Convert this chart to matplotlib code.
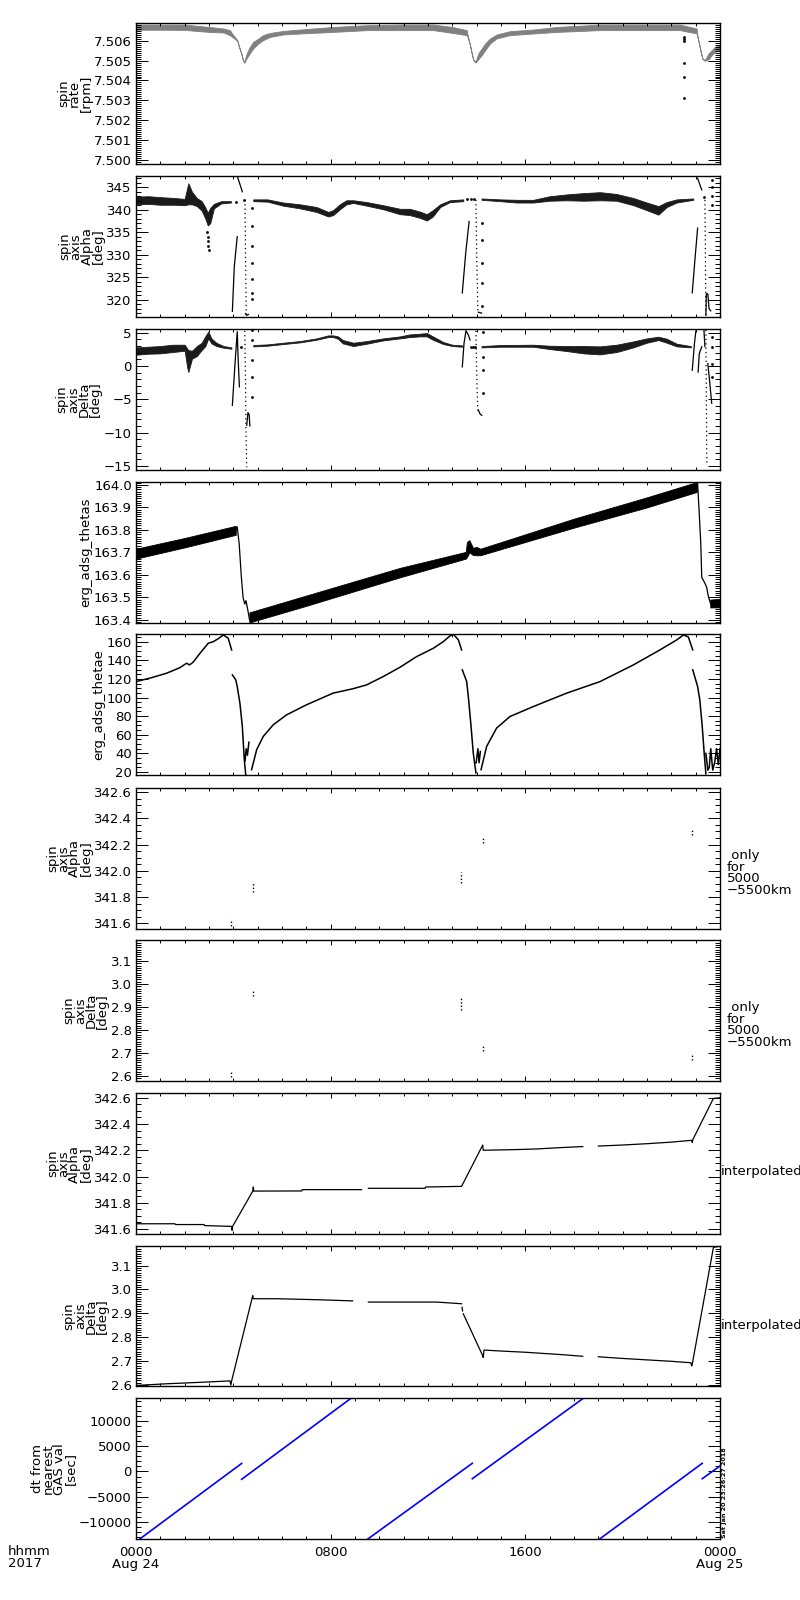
import numpy as np
import matplotlib
matplotlib.use('Agg')
import matplotlib.pyplot as plt
from matplotlib.ticker import MultipleLocator, FuncFormatter

plt.rcParams['font.family'] = ['DejaVu Sans']
nan = np.nan

# ---------------- data (time in hours from 2017-08-24 00:00) ----------------
# Panel 1: spin rate [rpm] band (quantised dots)
rate_t = [0, 1, 2, 3, 3.6, 3.86, 3.95, 4.16, 4.24, 4.33, 4.39, 4.45, 4.55, 4.68, 4.82, 5.03, 5.23, 5.51,
          6.05, 6.74, 8.1, 9.5, 10.85, 12.22, 13.0, 13.59, 13.66, 13.73, 13.8, 13.86, 13.95, 14.07, 14.21,
          14.35, 14.55, 14.82, 15.37, 16.33, 17.29, 19.07, 22.36, 23.04, 23.08, 23.14, 23.21, 23.28, 23.38,
          23.53, 23.66, 23.8, 24.0]
rate_hi = [7.50682, 7.50682, 7.50682, 7.50670, 7.50662, 7.50654, 7.50637, 7.50604, 7.50570, 7.50537, 7.50507,
           7.50494, 7.50537, 7.50570, 7.50595, 7.50612, 7.50629, 7.50640, 7.50650, 7.50657, 7.50670, 7.50679,
           7.50682, 7.50682, 7.50670, 7.50654, 7.50612, 7.50578, 7.50537, 7.50507, 7.50494, 7.50537, 7.50562,
           7.50587, 7.50612, 7.50632, 7.50649, 7.50657, 7.50670, 7.50682, 7.50682, 7.50662, 7.50620, 7.50587,
           7.50545, 7.50512, 7.50503, 7.50537, 7.50553, 7.50570, 7.50578]
rate_lo = [7.50656, 7.50656, 7.50655, 7.50645, 7.50642, 7.50628, 7.50620, 7.50600, 7.50566, 7.50533, 7.50503,
           7.50490, 7.50512, 7.50537, 7.50562, 7.50587, 7.50604, 7.50620, 7.50632, 7.50637, 7.50645, 7.50654,
           7.50654, 7.50654, 7.50640, 7.50629, 7.50608, 7.50574, 7.50533, 7.50503, 7.50490, 7.50507, 7.50528,
           7.50553, 7.50587, 7.50612, 7.50629, 7.50637, 7.50645, 7.50654, 7.50654, 7.50637, 7.50616, 7.50583,
           7.50541, 7.50508, 7.50499, 7.50507, 7.50528, 7.50545, 7.50553]
rate_dot_t = [22.53, 22.53, 22.53, 22.53, 22.53, 22.53]
rate_dot_v = [7.5062, 7.5061, 7.5060, 7.50486, 7.50416, 7.50310]

# Panel 2: spin axis alpha [deg]
alphaA_t = [0, 0.5, 1.0, 1.6, 2.0, 2.15, 2.3, 2.5, 2.7, 2.85, 2.95, 3.05, 3.2, 3.5, 3.9]
alphaA_hi = [342.9, 343.0, 342.8, 342.6, 342.4, 345.9, 344.0, 342.6, 341.9, 340.5, 339.3, 340.4, 341.3, 341.9, 341.9]
alphaA_lo = [341.2, 341.3, 341.1, 341.1, 341.0, 341.2, 341.2, 340.8, 339.8, 338.0, 336.5, 337.0, 340.3, 341.4, 341.6]
alphaB_t = [4.82, 5.4, 6.05, 6.74, 7.42, 7.9, 8.1, 8.4, 8.65, 8.93, 9.48, 10.16, 10.85, 11.25, 11.66, 11.95,
            12.2, 12.5, 12.9, 13.45]
alphaB_hi = [342.3, 342.3, 341.6, 341.2, 340.6, 339.5, 339.9, 341.3, 342.1, 342.1, 341.7, 341.0, 340.2, 340.2,
             339.6, 339.0, 339.9, 341.2, 342.1, 342.3]
alphaB_lo = [341.9, 341.8, 340.9, 340.3, 339.5, 338.5, 338.8, 340.2, 341.2, 341.5, 340.9, 340.1, 339.0, 338.8,
             338.2, 337.6, 338.5, 340.6, 341.7, 341.9]
alphaC_t = [14.2, 14.96, 15.65, 16.33, 17.0, 17.7, 18.4, 19.07, 19.75, 20.44, 20.99, 21.47, 21.81, 22.22, 22.9]
alphaC_hi = [342.5, 342.3, 342.2, 342.2, 343.0, 343.4, 343.7, 343.9, 343.5, 342.6, 341.6, 340.8, 341.7, 342.3, 342.5]
alphaC_lo = [342.2, 341.9, 341.6, 341.6, 342.0, 342.1, 342.0, 342.1, 342.0, 341.0, 339.9, 338.9, 340.6, 341.6, 342.2]
alpha_line_t = [3.96, 4.04, 4.16, nan, 4.16, 4.37, nan, 13.41, 13.55, 13.69, nan, 22.86, 22.97, 23.08, nan,
                23.08, 23.25, nan, 23.42, 23.44, 23.5, 23.55, 23.62, nan, 4.5, 4.55, 4.62, nan, 14.07, 14.2]
alpha_line_v = [317.4, 327.4, 334.0, nan, 347.5, 344.0, nan, 321.5, 330.4, 337.4, nan, 321.5, 328.9, 335.9, nan,
                347.0, 344.4, nan, 316.5, 321.3, 321.3, 318.0, 317.5, nan, 316.9, 316.5, 316.7, nan, 317.2, 317.0]
alpha_vert_t = [4.48, 4.50, 4.53, nan, 13.97, 14.0, 14.05, nan, 23.38, 23.40, 23.42]
alpha_vert_v = [342.2, 330.0, 316.5, nan, 342.2, 330.0, 317.4, nan, 342.2, 330.0, 316.4]
alpha_dot_t = [4.78, 4.78, 4.78, 4.78, 4.78, 4.78, 4.78, 14.23, 14.23, 14.23, 14.23, 14.23,
               23.66, 23.66, 23.66, 23.66, 2.93, 2.95, 2.96, 2.97, 2.98,
               4.1, 4.45, 13.6, 13.75, 13.9, 23.34]
alpha_dot_v = [340.4, 336.3, 331.9, 328.2, 324.5, 321.5, 320.1, 337.0, 333.3, 328.2, 323.7, 318.5,
               346.5, 345.0, 343.0, 341.0, 335.0, 334.0, 333.0, 332.0, 331.1,
               341.8, 342.1, 342.3, 342.3, 342.3, 342.8]

# Panel 3: spin axis delta [deg]
deltaA_t = [0, 0.5, 1.0, 1.5, 2.0, 2.1, 2.15, 2.3, 2.5, 2.7, 2.85, 2.97, 3.1, 3.3, 3.6, 3.92]
deltaA_hi = [2.8, 2.9, 3.0, 3.2, 3.2, 2.64, 2.39, 2.3, 3.0, 3.5, 4.5, 5.16, 4.15, 3.5, 3.0, 2.8]
deltaA_lo = [1.7, 1.85, 1.9, 2.1, 2.3, -0.12, -0.9, 1.1, 1.5, 2.4, 3.0, 4.15, 3.4, 3.0, 2.75, 2.6]
deltaB_t = [4.82, 5.4, 6.05, 6.74, 7.42, 7.9, 8.1, 8.3, 8.5, 8.93, 9.48, 10.16, 10.85, 11.25, 11.66, 11.95,
            12.2, 12.63, 13.0, 13.4]
deltaB_hi = [3.15, 3.25, 3.5, 3.75, 4.15, 4.6, 4.6, 4.45, 3.9, 3.5, 3.75, 4.15, 4.45, 4.75, 4.85, 4.95, 4.45, 3.6, 3.2, 3.1]
deltaB_lo = [2.95, 3.05, 3.3, 3.55, 3.95, 4.35, 4.35, 4.1, 3.4, 3.0, 3.35, 3.85, 4.15, 4.35, 4.45, 4.45, 3.95, 3.3, 3.0, 2.9]
deltaC_t = [14.2, 14.96, 16.33, 17.0, 17.7, 18.4, 19.07, 19.75, 20.44, 20.99, 21.47, 21.81, 22.22, 22.8]
deltaC_hi = [3.0, 3.15, 3.2, 3.05, 3.0, 3.0, 2.95, 3.2, 3.7, 4.15, 4.4, 4.1, 3.35, 3.0]
deltaC_lo = [2.8, 2.9, 2.9, 2.55, 2.25, 1.9, 1.75, 2.1, 2.8, 3.5, 3.9, 3.5, 2.95, 2.8]
delta_line_t = [3.96, 4.06, 4.16, 4.2, 4.25, nan, 4.55, 4.6, 4.65, 4.68, nan, 13.41, 13.48, 13.56, 13.66, 13.73,
                nan, 14.07, 14.14, 14.21, nan, 22.86, 22.95, 23.01, nan, 23.1, 23.15, 23.25, nan, 23.34, 23.38,
                nan, 23.5, 23.58, 23.66]
delta_line_v = [-5.9, -0.12, 5.16, 0.89, -3.13, nan, -8.9, -7.0, -7.3, -9.0, nan, -0.12, 3.4, 5.3, 4.65, 3.9,
                nan, -6.6, -7.2, -7.4, nan, -0.62, 3.4, 5.3, nan, -0.9, 1.89, 2.89, nan, 5.4, 2.9,
                nan, 0.38, -2.5, -5.6]
delta_vert_t = [4.47, 4.5, 4.52, 4.55, nan, 13.97, 14.0, 14.05, nan, 23.42, 23.44, 23.46]
delta_vert_v = [5.3, -2.0, -10.0, -15.2, nan, 5.3, -1.0, -7.15, nan, 5.4, -5.0, -14.8]
delta_dot_t = [4.78, 4.78, 4.78, 4.78, 4.78, 14.25, 14.25, 14.25, 14.25, 23.69, 23.69, 23.69, 23.69,
               4.3, 13.78, 13.85, 13.92]
delta_dot_v = [5.41, 3.9, 0.89, -1.63, -4.64, 5.16, 1.39, -0.62, -4.1, 4.4, 2.89, 0.38, -1.63,
               2.89, 2.89, 2.89, 2.89]

# Panel 4: erg_adsg_thetas
thetasA_t = [0, 2.0, 4.1]
thetasA_lo = [163.672, 163.722, 163.778]
thetasA_hi = [163.716, 163.764, 163.818]
thetas_fall_t = [4.1, 4.16, 4.24, 4.33, 4.4, 4.47, 4.52, 4.6, 4.66, 4.72, nan,
                 23.05, 23.08, 23.14, 23.21, 23.25, 23.32, 23.39, 23.45, 23.53, 23.62]
thetas_fall_v = [163.80, 163.813, 163.739, 163.589, 163.50, 163.47, 163.485, 163.44, 163.403, 163.39, nan,
                 164.01, 164.006, 163.887, 163.739, 163.589, 163.575, 163.56, 163.545, 163.50, 163.47]
thetasB_t = [4.66, 7.0, 10.85, 13.55, 13.6, 13.7, 13.85, 14.0, 14.15, 18.0, 21.0, 23.05]
thetasB_lo = [163.388, 163.462, 163.589, 163.672, 163.679, 163.700, 163.688, 163.687, 163.687, 163.810, 163.900, 163.969]
thetasB_hi = [163.433, 163.508, 163.631, 163.702, 163.746, 163.754, 163.720, 163.724, 163.716, 163.850, 163.945, 164.013]
thetasC_t = [23.6, 24.0]
thetasC_lo = [163.455, 163.455]
thetasC_hi = [163.490, 163.493]

# Panel 5: erg_adsg_thetae
thetae_t = [0, 0.6, 1.26, 1.8, 2.08, 2.2, 2.35, 2.63, 2.97, 3.18, 3.4, 3.59, 3.79, 3.93, nan,
            3.96, 4.1, 4.16, 4.27, 4.37, 4.45, 4.51, nan,
            4.48, 4.53, 4.58, 4.64, nan,
            4.75, 4.96, 5.23, 5.64, 6.19, 7.01, 8.1, 8.93, 9.48, 10.16, 10.85, 11.53, 12.22, 12.63, 12.9,
            13.05, 13.25, 13.38, nan,
            13.41, 13.59, 13.67, 13.77, 13.86, 13.97, nan,
            13.98, 14.05, 14.1, 14.15, nan,
            14.18, 14.41, 14.82, 15.37, 16.33, 17.7, 19.07, 20.44, 21.53, 22.22, 22.5, 22.7, 22.88, nan,
            22.88, 23.08, 23.17, 23.27, 23.36, 23.42, nan,
            23.42, 23.5, 23.56, 23.62, 23.7, 23.78, 23.86, 23.93, 24.0]
thetae_v = [117.1, 121, 126.1, 132, 136.8, 135, 138, 147.5, 158.3, 160, 163.5, 167.2, 163.6, 151.1, nan,
            124.3, 119, 111.8, 94.0, 68.9, 33.2, 17, nan,
            32, 45, 38, 52, nan,
            22.5, 44, 58.2, 70.7, 81.4, 92.2, 104.7, 109.5, 113.6, 122.5, 132.5, 143.9, 152.9, 160, 166.1,
            167.9, 161.8, 151.1, nan,
            129.7, 117.1, 97.5, 68.9, 40.4, 19, nan,
            30, 45, 30, 42, nan,
            22.5, 47.5, 67.2, 79.6, 90.3, 104.7, 117.1, 135, 151.1, 161.8, 167.2, 165, 151.1, nan,
            129.7, 111.8, 97.5, 68.9, 36.8, 18, nan,
            40, 22, 25, 45, 22, 30, 45, 28, 45]

# Panels 6, 7: only for 5000-5500 km
only_t = [3.9, 4.8, 13.34, 14.25, 22.84]
only_alpha_lo = [341.58, 341.84, 341.91, 342.21, 342.27]
only_alpha_hi = [341.63, 341.91, 341.99, 342.25, 342.32]
only_delta_lo = [2.597, 2.946, 2.888, 2.710, 2.670]
only_delta_hi = [2.626, 2.975, 2.943, 2.739, 2.700]

# Panel 8: interpolated alpha
ialpha_t = [0, 0.05, 1.6, 1.62, 2.8, 2.82, 3.93, 3.95, 3.97, 4.8, 4.82, 4.84, 6.81, 6.83, 9.27, nan,
            9.55, 11.88, 11.9, 13.38, 14.25, 14.27, 15.58, 16.47, 17.42, 18.36, nan,
            19.0, 20.0, 21.0, 22.0, 22.84, 22.86, 22.88, 23.73, 24.0]
ialpha_v = [341.65, 341.64, 341.64, 341.634, 341.634, 341.626, 341.62, 341.59, 341.62, 341.889, 341.92, 341.889,
            341.89, 341.90, 341.90, nan,
            341.91, 341.91, 341.92, 341.925, 342.24, 342.20, 342.205, 342.21, 342.22, 342.228, nan,
            342.232, 342.24, 342.25, 342.262, 342.276, 342.26, 342.28, 342.595, 342.60]

# Panel 9: interpolated delta
idelta_t = [0, 1.26, 2.63, 3.86, 3.9, 3.93, 4.8, 4.82, 5.8, 7.4, 8.9, nan,
            9.55, 12.36, 13.38, nan, 13.4, 13.42, nan,
            13.45, 14.25, 14.27, 14.3, 15.2, 16.0, 17.5, 18.36, nan,
            19.0, 20.0, 21.0, 22.0, 22.8, 22.84, 22.86, 23.73, 24.0]
idelta_v = [2.598, 2.605, 2.611, 2.617, 2.600, 2.617, 2.975, 2.961, 2.961, 2.957, 2.952, nan,
            2.947, 2.947, 2.940, nan, 2.925, 2.910, nan,
            2.898, 2.722, 2.715, 2.746, 2.741, 2.737, 2.727, 2.720, nan,
            2.718, 2.711, 2.705, 2.699, 2.693, 2.680, 2.687, 3.176, 3.181]

# Panel 10: dt from nearest GAS value [sec]
gas_t = [0.0, 4.34, nan, 4.34, 8.95, nan, 9.2, 13.82, nan, 13.82, 18.5, nan, 18.9, 23.27, nan, 23.27, 24.0]
gas_dt = [-14000, 1600, nan, -1560, 15000, nan, -14600, 1630, nan, -1440, 15000, nan, -14000, 1630, nan, -1440, 1100]

xtick_pos = [0, 8, 16, 24]
xtick_lab = ['0000\nAug 24', '0800', '1600', '0000\nAug 25']

# ---------------- figure ----------------
W, H = 800, 1600
fig = plt.figure(figsize=(W / 100, H / 100), dpi=100)
tops = [23, 176, 329, 482, 634, 788, 940.3, 1093.3, 1245.7, 1398.3]
ph = 140.7
x0, x1 = 136, 720
FS = 9.5


def uminus(fmt):
    return FuncFormatter(lambda v, p: (fmt % v).replace('-', '\u2212'))


def make_ax(i, ylim, major, minor, fmt, label, last=False):
    top = tops[i]
    ax = fig.add_axes([x0 / W, 1 - (top + ph) / H, (x1 - x0) / W, ph / H])
    ax.set_xlim(0, 24)
    ax.set_ylim(*ylim)
    ax.xaxis.set_major_locator(MultipleLocator(8))
    ax.xaxis.set_minor_locator(MultipleLocator(1))
    ax.yaxis.set_major_locator(MultipleLocator(major))
    ax.yaxis.set_minor_locator(MultipleLocator(minor))
    ax.yaxis.set_major_formatter(uminus(fmt))
    ax.tick_params(which='both', direction='in', top=True, right=True, width=0.7, labelsize=FS)
    ax.tick_params(axis='y', which='major', length=8.5, pad=3)
    ax.tick_params(axis='y', which='minor', length=3.8)
    ax.tick_params(axis='x', which='major', length=3.8, pad=5)
    ax.tick_params(axis='x', which='minor', length=2.2)
    for s in ax.spines.values():
        s.set_linewidth(1.0)
    if last:
        ax.set_xticks(xtick_pos)
        ax.set_xticklabels(xtick_lab)
        for lb in ax.get_xticklabels():
            lb.set_linespacing(0.9)
    else:
        ax.tick_params(labelbottom=False)
    ax.set_ylabel(label, fontsize=FS, linespacing=0.82, labelpad=1)
    return ax


LW = 0.9
K = 'black'

# 1 spin rate
ax = make_ax(0, (7.4998, 7.5069), 0.001, 0.0001, '%.3f', 'spin\nrate\n[rpm]')
ax.fill_between(rate_t, rate_lo, rate_hi, color='0.5', lw=0.6)
ax.plot(rate_dot_t, rate_dot_v, ls='none', marker='s', ms=0.9, color=K)

# 2 spin axis alpha
ax = make_ax(1, (316.2, 347.5), 5, 1, '%d', 'spin\naxis\nAlpha\n[deg]')
for tt, lo, hi in [(alphaA_t, alphaA_lo, alphaA_hi), (alphaB_t, alphaB_lo, alphaB_hi),
                   (alphaC_t, alphaC_lo, alphaC_hi)]:
    ax.fill_between(tt, lo, hi, color='0.1', lw=0.6)
ax.plot(alpha_line_t, alpha_line_v, color=K, lw=LW)
ax.plot(alpha_vert_t, alpha_vert_v, color=K, lw=0.9, ls=(0, (1, 2.5)))
ax.plot(alpha_dot_t, alpha_dot_v, ls='none', marker='s', ms=0.9, color=K)

# 3 spin axis delta
ax = make_ax(2, (-15.56, 5.56), 5, 1, '%d', 'spin\naxis\nDelta\n[deg]')
for tt, lo, hi in [(deltaA_t, deltaA_lo, deltaA_hi), (deltaB_t, deltaB_lo, deltaB_hi),
                   (deltaC_t, deltaC_lo, deltaC_hi)]:
    ax.fill_between(tt, lo, hi, color='0.1', lw=0.6)
ax.plot(delta_line_t, delta_line_v, color=K, lw=LW)
ax.plot(delta_vert_t, delta_vert_v, color=K, lw=0.9, ls=(0, (1, 2.5)))
ax.plot(delta_dot_t, delta_dot_v, ls='none', marker='s', ms=0.9, color=K)

# 4 thetas
ax = make_ax(3, (163.387, 164.013), 0.1, 0.01, '%.1f', 'erg_adsg_thetas')
for tt, lo, hi in [(thetasA_t, thetasA_lo, thetasA_hi), (thetasB_t, thetasB_lo, thetasB_hi),
                   (thetasC_t, thetasC_lo, thetasC_hi)]:
    ax.fill_between(tt, lo, hi, color=K, lw=0.6)
ax.plot(thetas_fall_t, thetas_fall_v, color=K, lw=LW)

# 5 thetae
ax = make_ax(4, (17.1, 168.2), 20, 5, '%d', 'erg_adsg_thetae')
ax.plot(thetae_t, thetae_v, color=K, lw=1.1)

# 6 alpha only 5000-5500 km
ax = make_ax(5, (341.56, 342.63), 0.2, 0.05, '%.1f', 'spin\naxis\nAlpha\n[deg]')
ax.vlines(only_t, only_alpha_lo, only_alpha_hi, color=K, lw=1.0, linestyles=(0, (1, 1.5)))
ax.text(1.012, 0.396, ' only\nfor\n5000\n\u22125500km', transform=ax.transAxes, ha='left', va='center',
        fontsize=FS, linespacing=0.85)

# 7 delta only 5000-5500 km
ax = make_ax(6, (2.579, 3.190), 0.1, 0.01, '%.1f', 'spin\naxis\nDelta\n[deg]')
ax.vlines(only_t, only_delta_lo, only_delta_hi, color=K, lw=1.0, linestyles=(0, (1, 1.5)))
ax.text(1.012, 0.398, ' only\nfor\n5000\n\u22125500km', transform=ax.transAxes, ha='left', va='center',
        fontsize=FS, linespacing=0.85)

# 8 interpolated alpha
ax = make_ax(7, (341.562, 342.634), 0.2, 0.05, '%.1f', 'spin\naxis\nAlpha\n[deg]')
ax.plot(ialpha_t, ialpha_v, color=K, lw=LW)
ax.text(1.002, 0.443, 'interpolated', transform=ax.transAxes, ha='left', va='center', fontsize=FS)

# 9 interpolated delta
ax = make_ax(8, (2.594, 3.183), 0.1, 0.01, '%.1f', 'spin\naxis\nDelta\n[deg]')
ax.plot(idelta_t, idelta_v, color=K, lw=LW)
ax.text(1.002, 0.436, 'interpolated', transform=ax.transAxes, ha='left', va='center', fontsize=FS)

# 10 dt from nearest GAS value
ax = make_ax(9, (-13450, 14585), 5000, 1000, '%d', 'dt from\nnearest\nGAS val\n[sec]', last=True)
ax.plot(gas_t, gas_dt, color='#0000ff', lw=1.2)

fig.text(722 / W, 1 - 1538 / H, 'Sat Jan 20 23:26:27 2018', rotation=90, fontsize=4.6,
         ha='left', va='bottom', fontweight='bold')
fig.text(8 / W, 1 - 1545 / H, 'hhmm\n2017', ha='left', va='top', fontsize=FS, linespacing=0.9)

fig.savefig('out.png', dpi=100)
